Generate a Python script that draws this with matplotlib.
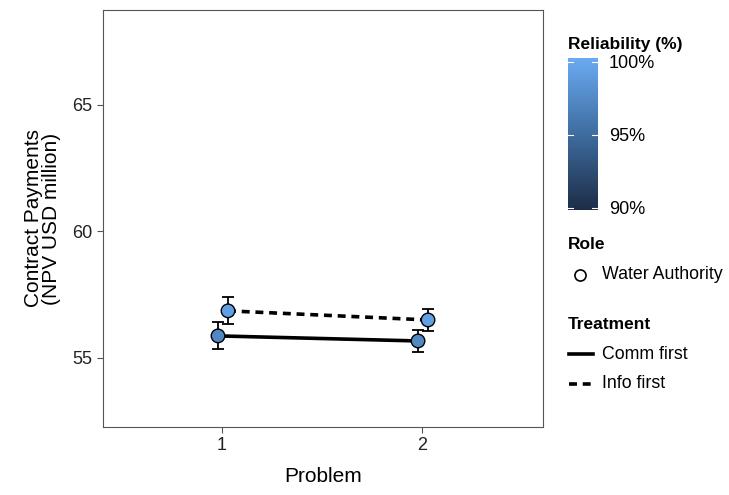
import matplotlib
matplotlib.use("Agg")
import matplotlib.pyplot as plt
import numpy as np
from matplotlib.colors import LinearSegmentedColormap, Normalize
from matplotlib.lines import Line2D
import matplotlib.colorbar as mcolorbar

plt.rcParams['font.family'] = ['Liberation Sans', 'DejaVu Sans']

problems = [1, 2]
treatments = ["Comm first", "Info first"]
payments = {"Comm first": [55.87, 55.67], "Info first": [56.86, 56.50]}
errors = {"Comm first": [0.53, 0.42], "Info first": [0.53, 0.44]}
reliability = {"Comm first": [97.3, 97.4], "Info first": [99.2, 99.3]}
dodge = {"Comm first": -0.02, "Info first": 0.03}
styles = {"Comm first": "-", "Info first": (0, (2.2, 1.6))}

cmap = LinearSegmentedColormap.from_list(
    "gg", [(0.0, "#1c2c47"), (0.495, "#3e6c9e"), (1.0, "#6aaaf2")])
norm = Normalize(vmin=89.85, vmax=100.25)

fig = plt.figure(figsize=(7.29, 4.95), dpi=100)
ax = fig.add_axes([0.1413, 0.1374, 0.6036, 0.8424])

for t in treatments:
    xs = np.array(problems) + dodge[t]
    ax.plot(xs, payments[t], color="black", lw=2.6, ls=styles[t], zorder=2)
    ax.errorbar(xs, payments[t], yerr=errors[t], fmt="none", ecolor="black",
                elinewidth=1.3, capsize=4, capthick=1.3, zorder=3)
    ax.scatter(xs, payments[t], c=[cmap(norm(v)) for v in reliability[t]],
               s=95, edgecolors="black", linewidths=1.0, zorder=4)

ax.set_xlim(0.405, 2.605)
ax.set_ylim(52.27, 68.75)
ax.set_xticks(problems)
ax.set_yticks([55, 60, 65])
for s in ax.spines.values():
    s.set_color("#555555")
    s.set_linewidth(0.8)
ax.tick_params(colors="#555555", labelcolor="#222222", labelsize=13, length=4, width=0.8)
ax.set_xlabel("Problem", fontsize=15, labelpad=9)
ax.set_ylabel("Contract Payments\n(NPV USD million)", fontsize=15, labelpad=8, linespacing=0.95)

# colorbar legend
fig.text(0.779, 0.895, "Reliability (%)", fontsize=12.5, fontweight="bold", va="bottom")
cax = fig.add_axes([0.779, 0.576, 0.041, 0.307])
cb = mcolorbar.ColorbarBase(cax, cmap=cmap, norm=norm, orientation="vertical")
cb.set_ticks([90, 95, 100])
cb.set_ticklabels(["90%", "95%", "100%"])
cb.outline.set_visible(False)
cax.tick_params(length=0, labelsize=13, pad=8)
for v in [90, 95, 100]:
    cax.plot([0, 0.18], [v, v], color="white", lw=0.8)
    cax.plot([0.82, 1], [v, v], color="white", lw=0.8)
cax.set_xlim(0, 1)

# Role legend
fig.text(0.779, 0.507, "Role", fontsize=12.5, fontweight="bold", va="center")
fig.add_artist(Line2D([0.795], [0.445], marker="o", ls="none", markersize=8,
                      markerfacecolor="white", markeredgecolor="black", markeredgewidth=1.2))
fig.text(0.826, 0.445, "Water Authority", fontsize=12.8, va="center")

# Treatment legend
fig.text(0.779, 0.345, "Treatment", fontsize=12.5, fontweight="bold", va="center")
fig.add_artist(Line2D([0.781, 0.813], [0.284, 0.284], color="black", lw=2.6))
fig.text(0.826, 0.284, "Comm first", fontsize=12.8, va="center")
fig.add_artist(Line2D([0.781, 0.813], [0.225, 0.225], color="black", lw=2.6,
                      ls=(0, (2.2, 1.6))))
fig.text(0.826, 0.225, "Info first", fontsize=12.8, va="center")

fig.savefig("out.png", dpi=100)
